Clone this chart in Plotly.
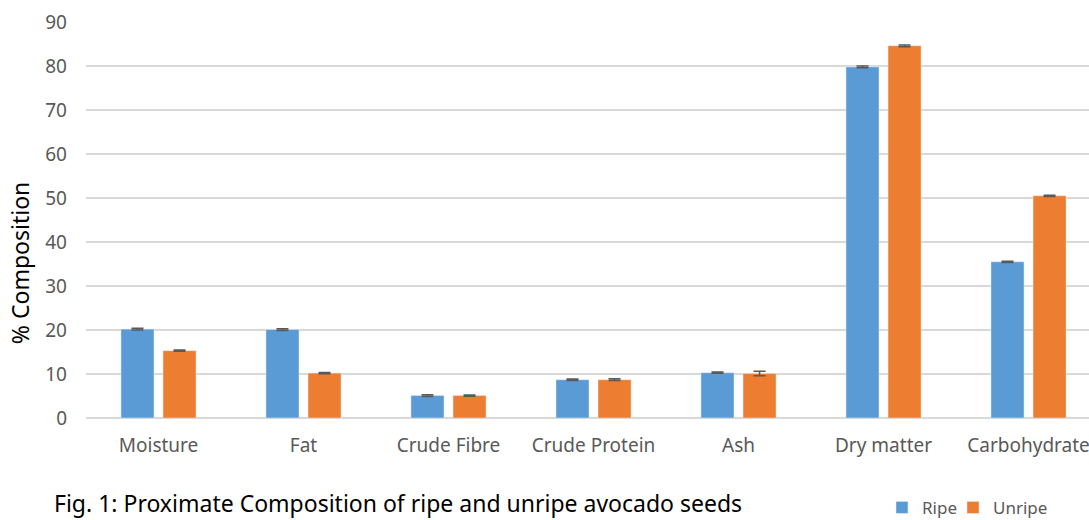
import plotly.graph_objects as go

categories = ["Moisture", "Fat", "Crude Fibre", "Crude Protein", "Ash", "Dry matter", "Carbohydrate"]
ripe = [20.2, 20.1, 5.1, 8.7, 10.3, 79.8, 35.5]
unripe = [15.3, 10.2, 5.1, 8.7, 10.1, 84.6, 50.5]
ripe_err = [0.2, 0.2, 0.2, 0.15, 0.15, 0.2, 0.15]
unripe_err = [0.15, 0.15, 0.15, 0.2, 0.5, 0.2, 0.15]
y_ticks = [0, 10, 20, 30, 40, 50, 60, 70, 80, 90]

font_family = "Noto Sans, Liberation Sans, sans-serif"
err_style = dict(type="data", visible=True, color="#595959", thickness=1.5, width=6)

fig = go.Figure()
fig.add_trace(go.Bar(name="Ripe", x=categories, y=ripe, marker=dict(color="#5B9BD5"),
                     error_y=dict(array=ripe_err, **err_style), legend="legend"))
fig.add_trace(go.Bar(name="Unripe", x=categories, y=unripe, marker=dict(color="#ED7D31"),
                     error_y=dict(array=unripe_err, **err_style), legend="legend2"))

legend_common = dict(orientation="h", y=-0.227, xanchor="left", yanchor="middle",
                     font=dict(size=17, color="#595959"), itemwidth=30,
                     bgcolor="rgba(0,0,0,0)")

fig.update_layout(
    width=1089, height=520,
    margin=dict(l=86, r=0, t=22, b=102, autoexpand=False),
    paper_bgcolor="white", plot_bgcolor="white",
    barmode="group", bargap=0.42, bargroupgap=0.214,
    font=dict(family=font_family, color="#595959", size=19),
    showlegend=True,
    legend=dict(x=0.7936, **legend_common),
    legend2=dict(x=0.8644, **legend_common),
    xaxis=dict(range=[-0.5, 6.417], showgrid=False, ticks="", showline=False, automargin=False,
               ticklabelstandoff=14, tickfont=dict(size=19, color="#595959")),
    yaxis=dict(range=[0, 90], tickvals=y_ticks, showgrid=True, gridcolor="#D9D9D9", gridwidth=1.5,
               zeroline=True, zerolinecolor="#D9D9D9", zerolinewidth=1.5, automargin=False,
               tickfont=dict(size=19, color="#595959"), ticks="", ticklabelstandoff=18),
    annotations=[
        dict(text="% Composition", xref="paper", yref="paper", x=-0.0658, y=0.391,
             xanchor="center", yanchor="middle", textangle=-90, showarrow=False,
             font=dict(size=23, color="#000000", family=font_family)),
        dict(text="Fig. 1: Proximate Composition of ripe and unripe avocado seeds",
             xref="paper", yref="paper", x=-0.034, y=-0.215,
             xanchor="left", yanchor="middle", showarrow=False,
             font=dict(size=23, color="#000000", family=font_family)),
    ],
)

fig.write_html("out.html", config={"displayModeBar": False},
               post_script="document.body.style.margin='0';")
